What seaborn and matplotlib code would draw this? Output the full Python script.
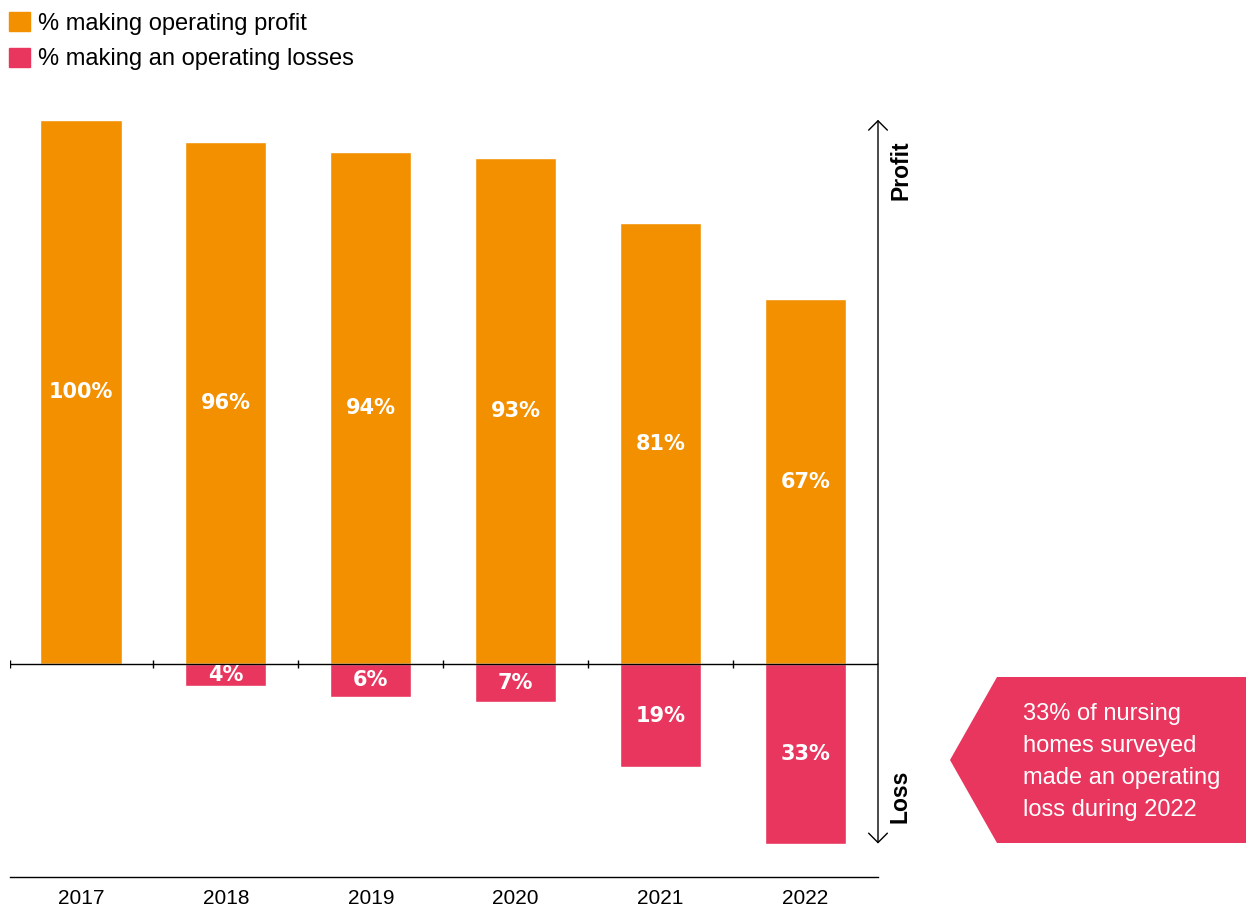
import matplotlib
matplotlib.use("Agg")
import matplotlib.pyplot as plt
from matplotlib.patches import Patch, Polygon
import seaborn as sns
import pandas as pd

years = ["2017", "2018", "2019", "2020", "2021", "2022"]
profit_pct = [100, 96, 94, 93, 81, 67]
loss_pct = [0, 4, 6, 7, 19, 33]

ORANGE = "#F39000"
PINK = "#E8365E"

sns.set_theme(style="white")
plt.rcParams["font.family"] = ["Liberation Sans", "DejaVu Sans"]
plt.rcParams["text.color"] = "black"

df = pd.DataFrame({"year": years, "profit": profit_pct,
                   "loss": [-v for v in loss_pct]})

W, H = 1246, 907
fig = plt.figure(figsize=(W / 100, H / 100), dpi=100)
ax = fig.add_axes([10 / W, 30 / H, 868 / W, 767 / H])

sns.barplot(data=df, x="year", y="profit", color=ORANGE, width=0.56,
            saturation=1, ax=ax)
sns.barplot(data=df, x="year", y="loss", color=PINK, width=0.56,
            saturation=1, ax=ax)

ax.set_xlim(-0.49, 5.5)
ax.set_ylim(-39.15, 101.8)

# value labels
lab = dict(color="white", fontsize=15, fontweight="bold", ha="center",
           va="center", family="DejaVu Sans")
for i, (p, l) in enumerate(zip(profit_pct, loss_pct)):
    ax.text(i, p / 2, f"{p}%", **lab)
    if l > 0:
        ax.text(i, -l / 2, f"{l}%", **lab)

# zero line with separators
ax.axhline(0, color="black", lw=1)
seps = [-0.49] + [i + 0.5 for i in range(len(years) - 1)]
ax.vlines(seps, -0.8, 0.8, color="black", lw=1)

# profit / loss arrows
arrow = dict(arrowstyle="->, head_length=0.45, head_width=0.45",
             lw=1, color="black", shrinkA=0, shrinkB=0, mutation_scale=15)
ax.annotate("", xy=(5.5, max(profit_pct)), xytext=(5.5, 0),
            arrowprops=arrow, annotation_clip=False)
ax.annotate("", xy=(5.5, -max(loss_pct)), xytext=(5.5, 0),
            arrowprops=arrow, annotation_clip=False)
fig.text(901 / W, 1 - 170 / H, "Profit", rotation=90, fontsize=16.5,
         fontweight="bold", ha="center", va="center")
fig.text(900 / W, 1 - 796 / H, "Loss", rotation=90, fontsize=16.5,
         fontweight="bold", ha="center", va="center")

# axes styling
for s in ["top", "right", "left"]:
    ax.spines[s].set_visible(False)
ax.spines["bottom"].set_color("black")
ax.spines["bottom"].set_linewidth(1)
ax.set_xlabel("")
ax.set_ylabel("")
ax.set_yticks([])
ax.tick_params(axis="x", length=0, pad=9, labelsize=15, colors="black")

# legend
handles = [Patch(color=ORANGE, label="% making operating profit"),
           Patch(color=PINK, label="% making an operating losses")]
fig.legend(handles=handles, loc="upper left", bbox_to_anchor=(0.0, 0.997),
           frameon=False, fontsize=17, handlelength=0.85, handleheight=0.85,
           handletextpad=0.35, labelspacing=0.55, borderpad=0.4,
           borderaxespad=0)

# callout
pts = [(997, 677), (W, 677), (W, 843), (997, 843), (950, 760)]
fig.patches.append(Polygon([(x / W, 1 - y / H) for x, y in pts], closed=True,
                           facecolor=PINK, edgecolor="none",
                           transform=fig.transFigure))
fig.text(1023 / W, 1 - 762 / H,
         "33% of nursing\nhomes surveyed\nmade an operating\nloss during 2022",
         color="white", fontsize=17, ha="left", va="center", linespacing=1.6)

fig.savefig("out.png", dpi=100)
